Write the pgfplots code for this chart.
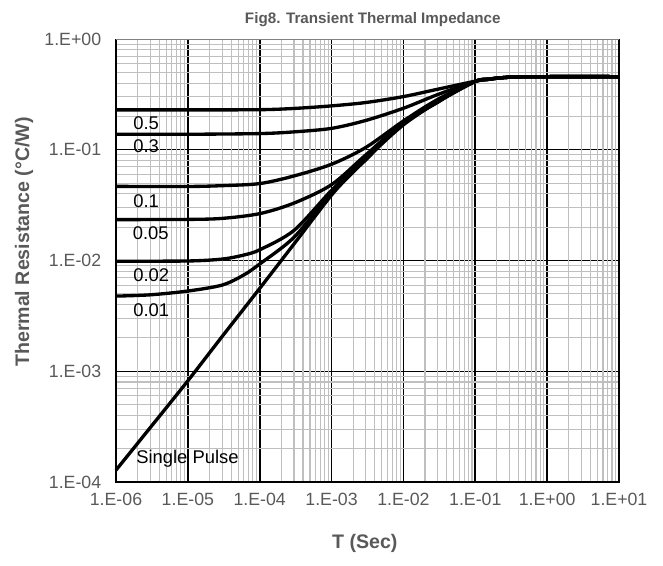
\documentclass[border=0pt]{standalone}
\usepackage{fontspec}
\setmainfont{Liberation Sans}
\usepackage{pgfplots}
\pgfplotsset{compat=1.18}
\definecolor{lblgray}{HTML}{595959}
\definecolor{mgrid}{HTML}{BFBFBF}

\begin{document}
\begin{tikzpicture}
\path[use as bounding box] (-87pt,-63pt) rectangle (410.25pt,361.5pt);
\begin{axis}[
  at={(0,0)}, anchor=south west,
  scale only axis, width=377.25pt, height=332.25pt,
  xmode=log, ymode=log,
  xmin=1e-6, xmax=10, ymin=1e-4, ymax=1,
  clip=false,
  axis line style={draw=none},
  major tick length=0pt, minor tick length=0pt,
  xtick={1e-6,1e-5,1e-4,1e-3,1e-2,1e-1,1,10},
  xticklabels={1.E-06,1.E-05,1.E-04,1.E-03,1.E-02,1.E-01,1.E+00,1.E+01},
  ytick={1e-4,1e-3,1e-2,1e-1,1},
  yticklabels={1.E-04,1.E-03,1.E-02,1.E-01,1.E+00},
  minor ytick={2e-4,3e-4,4e-4,5e-4,6e-4,7e-4,8e-4,9e-4,
               2e-3,3e-3,4e-3,5e-3,6e-3,7e-3,8e-3,9e-3,
               2e-2,3e-2,4e-2,5e-2,6e-2,7e-2,8e-2,9e-2,
               2e-1,3e-1,4e-1,5e-1,6e-1,7e-1,8e-1,9e-1},
  xmajorgrids, ymajorgrids, yminorgrids, xminorgrids=false,
  x grid style={black, line width=1.3pt},
  y grid style={},
  major grid style={black},
  minor grid style={mgrid, line width=0.85pt},
  extra x ticks={2e-6,3e-6,4e-6,5e-6,6e-6,7e-6,8e-6,9e-6,
                 2e-5,3e-5,4e-5,5e-5,6e-5,7e-5,8e-5,9e-5,
                 2e-4,3e-4,4e-4,5e-4,6e-4,7e-4,8e-4,9e-4,
                 2e-3,3e-3,4e-3,5e-3,6e-3,7e-3,8e-3,9e-3,
                 2e-2,3e-2,4e-2,5e-2,6e-2,7e-2,8e-2,9e-2,
                 2e-1,3e-1,4e-1,5e-1,6e-1,7e-1,8e-1,9e-1,
                 2,3,4,5,6,7,8,9},
  extra x tick labels={},
  extra x tick style={grid=major, x grid style={mgrid, line width=0.85pt}, major grid style={mgrid, line width=0.85pt}},
  xticklabel style={font=\fontsize{13.3pt}{16pt}\selectfont, text=lblgray, yshift=-4.6pt},
  yticklabel style={font=\fontsize{13.3pt}{16pt}\selectfont, text=lblgray, xshift=-7.6pt},
  zth/.style={black, line width=2.5pt, smooth, tension=0.5, mark=none},
]
% Single pulse
\addplot[zth] coordinates {(1e-6,1.28e-4) (3e-6,3.1e-4) (1e-5,8.2e-4) (3e-5,2.06e-3) (1e-4,5.6e-3) (3e-4,1.41e-2) (1e-3,3.9e-2) (2e-3,6.3e-2) (3e-3,8.1e-2) (5e-3,0.113) (1e-2,0.168) (2e-2,0.23) (3e-2,0.268) (5e-2,0.33) (1e-1,0.413) (1.5e-1,0.432) (2e-1,0.443) (3e-1,0.452) (5e-1,0.456) (1,0.457) (10,0.457)};
% D = 0.01
\addplot[zth] coordinates {(1e-6,0.00477) (3e-6,0.0049) (1e-5,0.0053) (3e-5,0.006) (6e-5,0.0074) (1e-4,0.0093) (3e-4,0.0162) (1e-3,0.041) (3e-3,0.083) (1e-2,0.17) (3e-2,0.27) (1e-1,0.414) (1.5e-1,0.432) (2e-1,0.443) (3e-1,0.452) (5e-1,0.456) (1,0.457) (10,0.457)};
% D = 0.02
\addplot[zth] coordinates {(1e-6,0.00986) (1e-5,0.0099) (3e-5,0.0103) (6e-5,0.0112) (1e-4,0.0125) (3e-4,0.0187) (1e-3,0.043) (3e-3,0.085) (1e-2,0.172) (3e-2,0.272) (1e-1,0.414) (1.5e-1,0.432) (2e-1,0.443) (3e-1,0.452) (5e-1,0.456) (1,0.457) (10,0.457)};
% D = 0.05
\addplot[zth] coordinates {(1e-6,0.0234) (1e-5,0.0235) (3e-5,0.024) (1e-4,0.0265) (3e-4,0.033) (1e-3,0.0484) (3e-3,0.09) (1e-2,0.176) (3e-2,0.276) (1e-1,0.415) (1.5e-1,0.432) (2e-1,0.443) (3e-1,0.452) (5e-1,0.456) (1,0.457) (10,0.457)};
% D = 0.1
\addplot[zth] coordinates {(1e-6,0.0467) (1e-5,0.0466) (3e-5,0.0474) (1e-4,0.0495) (3e-4,0.058) (1e-3,0.074) (3e-3,0.105) (1e-2,0.182) (3e-2,0.285) (1e-1,0.415) (1.5e-1,0.432) (2e-1,0.443) (3e-1,0.452) (5e-1,0.456) (1,0.457) (10,0.457)};
% D = 0.3
\addplot[zth] coordinates {(1e-6,0.138) (1e-5,0.138) (1e-4,0.140) (3e-4,0.145) (1e-3,0.156) (3e-3,0.184) (1e-2,0.237) (3e-2,0.315) (1e-1,0.415) (1.5e-1,0.432) (2e-1,0.443) (3e-1,0.452) (5e-1,0.456) (1,0.457) (10,0.457)};
% D = 0.5
\addplot[zth] coordinates {(1e-6,0.229) (1e-5,0.229) (1e-4,0.230) (3e-4,0.236) (1e-3,0.249) (3e-3,0.267) (1e-2,0.302) (3e-2,0.352) (1e-1,0.416) (1.5e-1,0.433) (2e-1,0.443) (3e-1,0.452) (5e-1,0.456) (1,0.457) (10,0.457)};

% frame
\draw[line width=1.5pt, black] (rel axis cs:0,1) -- (rel axis cs:0,0) -- (rel axis cs:1,0) -- (rel axis cs:1,1);
\draw[line width=0.75pt, gray] (rel axis cs:0,1) -- (rel axis cs:1,1);

% curve labels
\begin{scope}[every node/.style={font=\fontsize{13.8pt}{16pt}\selectfont, inner sep=0pt, anchor=base west}]
\node at (axis cs:1.73e-6,0.1508) {0.5};
\node at (axis cs:1.73e-6,0.0935) {0.3};
\node at (axis cs:1.73e-6,0.0304) {0.1};
\node at (axis cs:1.70e-6,0.01563) {0.05};
\node at (axis cs:1.73e-6,0.0064) {0.02};
\node at (axis cs:1.73e-6,0.00309) {0.01};
\node at (axis cs:1.90e-6,1.455e-4) {Single Pulse};
\end{scope}

% title and axis labels
\node[anchor=base, xshift=4pt, yshift=11.5pt, font=\bfseries\fontsize{11.4pt}{13pt}\selectfont, text=lblgray] at (rel axis cs:0.5,1) {Fig8. Transient Thermal Impedance};
\node[anchor=base, xshift=-2pt, yshift=-49.5pt, font=\bfseries\fontsize{14.7pt}{17pt}\selectfont, text=lblgray] at (rel axis cs:0.5,0) {T (Sec)};
\node[anchor=center, rotate=90, font=\bfseries\fontsize{14.7pt}{17pt}\selectfont, text=lblgray] at ([xshift=-69pt]rel axis cs:0,0.5418) {Thermal Resistance (°C/W)};
\end{axis}
\end{tikzpicture}
\end{document}
